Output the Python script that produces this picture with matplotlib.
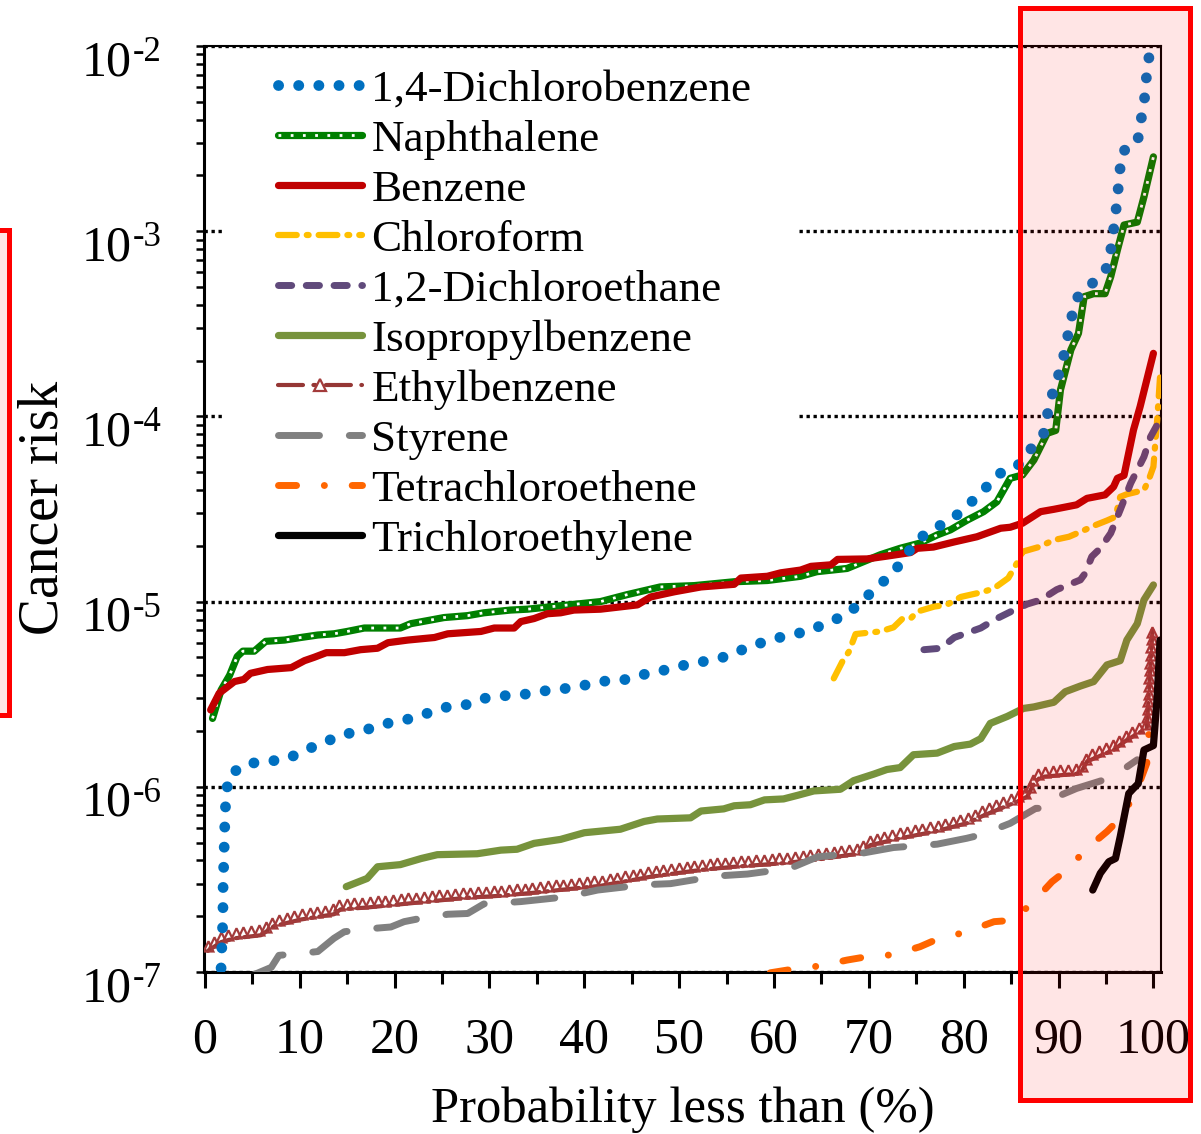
import numpy as np
import matplotlib
matplotlib.use("Agg")
import matplotlib.pyplot as plt
from matplotlib.lines import Line2D
from matplotlib.patches import Rectangle
from matplotlib.path import Path
from matplotlib.transforms import Affine2D
from matplotlib.patheffects import AbstractPathEffect
from matplotlib.ticker import LogLocator, MultipleLocator, NullFormatter

plt.rcParams['font.family'] = ['Liberation Serif', 'DejaVu Serif']

# ---- data (x = probability %, y = cancer risk) ----
dcb_x = [1.7, 1.9, 1.9, 2.1, 2.2, 2.5, 4.3, 6.5, 8.6, 10.6, 12.6, 14.6, 16.6, 18.8, 20.9,
         23.0, 25.2, 27.3, 29.4, 31.5, 33.7, 35.9, 38.1, 40.2, 42.4, 44.5, 46.7, 48.8, 51.0,
         53.1, 55.3, 57.3, 59.4, 61.5, 63.6, 65.6, 67.7, 69.4, 71.0, 72.5, 73.8, 75.2, 77.0,
         79.0, 81.1, 82.1, 83.6, 85.6, 87.0, 88.4, 88.9, 89.5, 90.3, 90.8, 91.3, 91.9, 93.5,
         95.0, 95.6, 95.9, 96.2, 96.4, 96.7, 98.3, 98.7, 99.1, 99.3, 99.7]
dcb_y = [1.05e-7, 2.0e-7, 2.7e-7, 6.4e-7, 8.7e-7, 1.15e-6, 1.33e-6, 1.37e-6, 1.41e-6, 1.58e-6,
         1.74e-6, 1.92e-6, 2.0e-6, 2.18e-6, 2.28e-6, 2.45e-6, 2.68e-6, 2.75e-6, 3.0e-6, 3.1e-6,
         3.16e-6, 3.3e-6, 3.4e-6, 3.55e-6, 3.74e-6, 3.8e-6, 4.1e-6, 4.3e-6, 4.6e-6, 4.8e-6,
         5.1e-6, 5.7e-6, 6.15e-6, 6.6e-6, 6.9e-6, 7.7e-6, 8.5e-6, 1.02e-5, 1.22e-5, 1.41e-5,
         1.75e-5, 2.18e-5, 2.49e-5, 2.85e-5, 3.56e-5, 4.0e-5, 4.87e-5, 5.35e-5, 6.6e-5, 8.0e-5,
         1.07e-4, 1.42e-4, 1.85e-4, 2.46e-4, 3.32e-4, 4.35e-4, 5.19e-4, 6.25e-4, 8.35e-4,
         1.12e-3, 1.5e-3, 2.0e-3, 2.69e-3, 2.98e-3, 4.0e-3, 5.37e-3, 7.17e-3, 1.0e-2]

nap_x = [0.8, 1.7, 2.6, 3.4, 4.0, 5.2, 6.4, 8.4, 10.1, 11.9, 13.6, 15.0, 16.8, 20.6, 21.7,
         23.5, 25.2, 27.7, 29.4, 32.2, 34.0, 37.5, 41.7, 44.5, 48.0, 51.6, 55.8, 59.3, 62.8,
         64.5, 67.7, 71.2, 73.3, 75.4, 77.2, 78.6, 80.4, 82.1, 83.5, 84.9, 86.2, 87.4, 88.8,
         89.7, 90.2, 91.3, 92.1, 92.7, 93.7, 94.9, 95.5, 96.2, 96.9, 98.3, 99.0, 100.0]
nap_y = [2.34e-6, 3.33e-6, 4.0e-6, 5.05e-6, 5.4e-6, 5.4e-6, 6.1e-6, 6.2e-6, 6.4e-6, 6.6e-6,
         6.7e-6, 6.9e-6, 7.2e-6, 7.2e-6, 7.6e-6, 7.9e-6, 8.2e-6, 8.4e-6, 8.7e-6, 9.0e-6,
         9.1e-6, 9.5e-6, 1.0e-5, 1.09e-5, 1.2e-5, 1.22e-5, 1.28e-5, 1.30e-5, 1.37e-5, 1.45e-5,
         1.51e-5, 1.79e-5, 1.94e-5, 2.07e-5, 2.29e-5, 2.44e-5, 2.76e-5, 3.06e-5, 3.46e-5,
         4.63e-5, 4.83e-5, 5.82e-5, 8.1e-5, 8.4e-5, 1.39e-4, 2.29e-4, 2.81e-4, 4.43e-4, 4.6e-4,
         4.6e-4, 5.68e-4, 7.9e-4, 1.08e-3, 1.12e-3, 1.53e-3, 2.52e-3]

benz_x = [0.6, 1.5, 3.1, 4.1, 4.8, 6.6, 9.1, 10.5, 11.5, 12.8, 14.7, 16.4, 18.2, 19.3, 21.4,
          24.2, 25.6, 29.1, 30.5, 32.6, 33.3, 34.7, 36.1, 37.5, 38.9, 41.7, 45.6, 47.0, 49.5,
          52.3, 55.8, 56.5, 59.3, 60.7, 62.8, 63.9, 66.0, 66.7, 69.8, 71.9, 74.4, 75.1, 76.8,
          79.0, 81.4, 83.9, 84.9, 86.2, 88.1, 89.5, 91.9, 93.0, 94.9, 95.8, 96.2, 96.9, 97.9,
          98.6, 100.0]
benz_y = [2.6e-6, 3.2e-6, 3.7e-6, 3.8e-6, 4.1e-6, 4.3e-6, 4.4e-6, 4.8e-6, 5.0e-6, 5.3e-6,
          5.3e-6, 5.5e-6, 5.6e-6, 6.0e-6, 6.2e-6, 6.4e-6, 6.7e-6, 6.9e-6, 7.2e-6, 7.2e-6,
          7.8e-6, 8.1e-6, 8.6e-6, 8.7e-6, 9.0e-6, 9.1e-6, 9.6e-6, 1.06e-5, 1.13e-5, 1.2e-5,
          1.24e-5, 1.34e-5, 1.37e-5, 1.43e-5, 1.48e-5, 1.55e-5, 1.58e-5, 1.69e-5, 1.70e-5,
          1.76e-5, 1.84e-5, 1.94e-5, 1.97e-5, 2.1e-5, 2.24e-5, 2.49e-5, 2.52e-5, 2.65e-5,
          3.06e-5, 3.15e-5, 3.33e-5, 3.61e-5, 3.77e-5, 4.17e-5, 4.63e-5, 4.8e-5, 8.45e-5,
          1.13e-4, 2.19e-4]

chl_x = [66.3, 67.2, 67.9, 68.6, 71.2, 72.6, 73.5, 74.4, 75.1, 76.9, 78.2, 79.7, 82.1, 83.2,
         84.7, 85.6, 86.2, 87.9, 89.5, 91.1, 92.3, 93.9, 95.1, 96.0, 96.5, 97.2, 99.0, 99.5,
         100.0, 100.2, 100.4, 100.7]
chl_y = [3.85e-6, 4.74e-6, 5.37e-6, 6.68e-6, 6.9e-6, 7.26e-6, 8.05e-6, 8.1e-6, 8.83e-6,
         9.4e-6, 9.6e-6, 1.06e-5, 1.13e-5, 1.18e-5, 1.34e-5, 1.61e-5, 1.86e-5, 1.97e-5,
         2.15e-5, 2.24e-5, 2.38e-5, 2.59e-5, 2.74e-5, 2.87e-5, 3.68e-5, 3.8e-5, 4.0e-5,
         4.54e-5, 5.35e-5, 7.2e-5, 9.6e-5, 1.64e-4]

dce_x = [75.8, 77.6, 79.0, 81.8, 83.2, 85.3, 86.7, 88.1, 89.8, 92.3, 92.8, 93.5, 94.4, 95.5,
         96.5, 97.6, 99.0, 99.7, 100.7]
dce_y = [5.5e-6, 5.6e-6, 6.4e-6, 7.2e-6, 7.96e-6, 9.0e-6, 9.7e-6, 1.02e-5, 1.16e-5, 1.31e-5,
         1.42e-5, 1.75e-5, 1.94e-5, 2.34e-5, 3.13e-5, 4.35e-5, 6.05e-5, 7.76e-5, 9.6e-5]

iso_x = [14.9, 17.1, 18.2, 20.6, 22.8, 24.5, 28.7, 31.2, 32.9, 34.7, 37.5, 40.0, 43.8, 46.3,
         47.7, 51.2, 52.3, 54.7, 55.8, 57.5, 59.0, 61.0, 62.5, 64.2, 67.0, 68.4, 70.5, 71.9,
         73.3, 74.7, 77.2, 79.0, 80.7, 81.8, 82.8, 84.6, 86.3, 87.4, 89.5, 90.7, 92.3, 93.7,
         95.1, 96.5, 97.2, 98.3, 99.0, 100.0]
iso_y = [2.89e-7, 3.2e-7, 3.7e-7, 3.8e-7, 4.1e-7, 4.3e-7, 4.35e-7, 4.55e-7, 4.6e-7, 4.95e-7,
         5.2e-7, 5.65e-7, 5.9e-7, 6.5e-7, 6.7e-7, 6.8e-7, 7.4e-7, 7.6e-7, 7.9e-7, 8.0e-7,
         8.5e-7, 8.6e-7, 9.0e-7, 9.5e-7, 9.7e-7, 1.08e-6, 1.17e-6, 1.24e-6, 1.27e-6, 1.49e-6,
         1.52e-6, 1.65e-6, 1.7e-6, 1.82e-6, 2.2e-6, 2.4e-6, 2.65e-6, 2.7e-6, 2.86e-6, 3.26e-6,
         3.5e-6, 3.7e-6, 4.55e-6, 4.8e-6, 6.2e-6, 7.6e-6, 1.02e-5, 1.23e-5]

eth_x = [0.3, 1.7, 3.1, 5.9, 7.3, 10.1, 13.6, 14.3, 17.1, 20.6, 24.2, 27.7, 31.2, 34.7, 38.2,
         41.7, 47.0, 52.3, 55.8, 61.0, 64.6, 69.1, 70.2, 73.3, 76.9, 80.3, 82.1, 85.6, 86.7,
         87.4, 88.1, 92.3, 93.0, 95.8, 97.2, 99.3, 99.5, 99.7, 99.9]
eth_y = [1.3e-7, 1.45e-7, 1.52e-7, 1.58e-7, 1.77e-7, 1.92e-7, 2.05e-7, 2.18e-7, 2.23e-7,
         2.32e-7, 2.42e-7, 2.52e-7, 2.58e-7, 2.68e-7, 2.8e-7, 2.92e-7, 3.27e-7, 3.56e-7,
         3.7e-7, 3.87e-7, 4.05e-7, 4.37e-7, 4.85e-7, 5.27e-7, 5.73e-7, 6.35e-7, 7.0e-7,
         8.3e-7, 8.85e-7, 1.04e-6, 1.13e-6, 1.18e-6, 1.37e-6, 1.58e-6, 1.79e-6, 2.07e-6,
         3.07e-6, 4.65e-6, 7.0e-6]

sty_x = [4.8, 7.0, 7.8, 10.1, 11.9, 13.6, 14.7, 17.8, 19.6, 21.0, 22.8, 25.6, 27.7, 29.4,
         30.5, 33.3, 38.2, 41.4, 46.3, 49.1, 54.0, 57.2, 61.7, 64.6, 69.5, 72.6, 77.2, 80.3,
         81.8, 84.9, 87.6, 88.8, 90.2, 91.9, 94.8, 96.2, 98.3]
sty_y = [9.5e-8, 1.06e-7, 1.23e-7, 1.26e-7, 1.29e-7, 1.52e-7, 1.65e-7, 1.72e-7, 1.75e-7,
         1.87e-7, 1.95e-7, 2.05e-7, 2.07e-7, 2.33e-7, 2.35e-7, 2.4e-7, 2.55e-7, 2.77e-7,
         2.96e-7, 3.0e-7, 3.3e-7, 3.38e-7, 3.63e-7, 4.19e-7, 4.4e-7, 4.7e-7, 4.9e-7, 5.27e-7,
         5.5e-7, 6.35e-7, 7.65e-7, 7.65e-7, 9.0e-7, 9.8e-7, 1.09e-6, 1.18e-6, 1.40e-6]

tce_x = [59.6, 61.7, 64.9, 67.7, 69.8, 72.6, 75.4, 76.9, 80.3, 83.2, 85.1, 87.2, 89.3, 90.9,
         93.0, 95.1, 96.5, 98.1, 99.3, 99.7]
tce_y = [0.99e-7, 1.03e-7, 1.08e-7, 1.16e-7, 1.21e-7, 1.24e-7, 1.37e-7, 1.48e-7, 1.65e-7,
         1.87e-7, 1.9e-7, 2.35e-7, 3.07e-7, 3.56e-7, 4.66e-7, 5.73e-7, 6.76e-7, 9.2e-7,
         1.34e-6, 2.6e-6]

tcy_x = [93.6, 94.4, 95.3, 96.0, 96.5, 97.4, 97.9, 98.4, 99.0, 100.0, 100.4, 100.7]
tcy_y = [2.77e-7, 3.41e-7, 3.94e-7, 4.1e-7, 5.38e-7, 9.2e-7, 9.8e-7, 1.04e-6, 1.58e-6,
         1.67e-6, 3.07e-6, 6.2e-6]

labels = ['1,4-Dichlorobenzene', 'Naphthalene', 'Benzene', 'Chloroform',
          '1,2-Dichloroethane', 'Isopropylbenzene', 'Ethylbenzene', 'Styrene',
          'Tetrachloroethene', 'Trichloroethylene']
y_exponents = [-2, -3, -4, -5, -6, -7]
x_ticks = list(range(0, 101, 10))


class TriangleTrail(AbstractPathEffect):
    """Draws the line, then open triangles sitting on it every `step` points."""
    def __init__(self, step=5.6, size=7.0, color='#A33B3B', lw=1.6):
        super().__init__()
        self.step, self.size, self.color, self.lw = step, size, color, lw

    def draw_path(self, renderer, gc, tpath, affine, rgbFace=None):
        renderer.draw_path(gc, tpath, affine, rgbFace)
        pts = affine.transform(tpath.vertices)
        d = np.hypot(*np.diff(pts, axis=0).T)
        s = np.concatenate([[0], np.cumsum(d)])
        pos = np.arange(0, s[-1], renderer.points_to_pixels(self.step))
        xy = np.column_stack([np.interp(pos, s, pts[:, 0]), np.interp(pos, s, pts[:, 1])])
        h = renderer.points_to_pixels(self.size)
        tri = Path([[-h / 2, 0], [h / 2, 0], [0, h * 1.05], [-h / 2, 0]], closed=True)
        g = renderer.new_gc()
        g.copy_properties(gc)
        g.set_dashes(0, None)
        g.set_linewidth(self.lw)
        g.set_foreground(self.color)
        g.set_joinstyle('miter')
        renderer.draw_markers(g, tri, Affine2D(), Path(xy), Affine2D(), None)
        g.restore()


W, H = 1201, 1134
fig = plt.figure(figsize=(W / 100, H / 100), dpi=100)
ax = fig.add_axes([204 / W, 1 - 972 / H, 957 / W, 926 / H])
ax.set_yscale('log')
ax.set_ylim(1e-7, 1e-2)
ax.set_xlim(-0.1, 100.8)

round_kw = dict(solid_capstyle='round', solid_joinstyle='round',
                dash_capstyle='round', dash_joinstyle='round')

l_nap, = ax.plot(nap_x, nap_y, color='#008000', lw=5.2, zorder=3, **round_kw)
l_nap2, = ax.plot(nap_x, nap_y, color='white', lw=2.0, ls=(0, (1, 3.4)), zorder=3.01)
l_benz, = ax.plot(benz_x, benz_y, color='#C00000', lw=5.2, zorder=3.1, **round_kw)
l_chl, = ax.plot(chl_x, chl_y, color='#FFC000', lw=4.5, ls=(0, (3, 1.6, 0.3, 1.6)),
                 zorder=3.2, **round_kw)
l_dce, = ax.plot(dce_x, dce_y, color='#604A7B', lw=5.0, ls=(0, (1.9, 2.1)), zorder=3.3,
                 **round_kw)
l_iso, = ax.plot(iso_x, iso_y, color='#77933C', lw=5.2, zorder=3.4, **round_kw)
l_eth, = ax.plot(eth_x, eth_y, color='#953735', lw=3.0, ls=(0, (6, 1.5, 0.5, 1.5)),
                 zorder=3.5, path_effects=[TriangleTrail()], **round_kw)
l_sty, = ax.plot(sty_x, sty_y, color='#808080', lw=5.0, ls=(0, (5.9, 4.3)), zorder=3.6,
                 **round_kw)
l_tce, = ax.plot(tce_x, tce_y, color='#FF6600', lw=5.0, ls=(0, (2.6, 4.0, 0.01, 4.0)),
                 zorder=3.7, **round_kw)
l_tcy, = ax.plot(tcy_x, tcy_y, color='black', lw=5.2, zorder=3.8, **round_kw)
l_dcb, = ax.plot(dcb_x, dcb_y, color='#0070C0', lw=7.8, ls=(0, (0.01, 1.85)), zorder=3.9,
                 **round_kw)

# gridlines, hidden behind the legend box like the original
ax.set_axisbelow(True)
ax.yaxis.grid(True, which='major', color='black', linestyle=(0, (1, 1.1)), linewidth=2.4)
ax.xaxis.grid(False)
ax.add_patch(Rectangle((21 / 957, (972 - 560) / 926), (797 - 225) / 957, 500 / 926,
                       transform=ax.transAxes, facecolor='white', edgecolor='none',
                       zorder=1.5))

eth_proxy = Line2D([], [], color='#953735', lw=3.0, ls=(0, (6, 2.5, 0.5, 2.5)), marker='^',
                   markersize=8, markerfacecolor='none', markeredgecolor='#A33B3B',
                   markeredgewidth=1.6, **round_kw)
handles = [l_dcb, (l_nap, l_nap2), l_benz, l_chl, l_dce, l_iso, eth_proxy, l_sty, l_tce, l_tcy]
leg = ax.legend(handles, labels, loc='upper left', bbox_to_anchor=(278 / W, 1 - 69 / H),
                bbox_transform=fig.transFigure, frameon=False, fontsize=32.5,
                handlelength=1.85, handletextpad=0.22, labelspacing=0.21, borderpad=0,
                borderaxespad=0, numpoints=1)
leg.set_zorder(1.6)

# axes styling
for side in ['left', 'bottom']:
    ax.spines[side].set_linewidth(2.2)
for side in ['top', 'right']:
    ax.spines[side].set_linewidth(1.5)

ax.yaxis.set_major_locator(LogLocator(base=10))
ax.yaxis.set_minor_locator(LogLocator(base=10, subs=np.arange(2, 10)))
ax.yaxis.set_minor_formatter(NullFormatter())
ax.tick_params(axis='y', which='both', direction='out', length=5.8, width=1.8,
               labelleft=False)
ax.set_xticks(x_ticks)
ax.xaxis.set_minor_locator(MultipleLocator(5))
ax.tick_params(axis='x', which='major', direction='out', length=11.5, width=2.2,
               labelsize=36, pad=21)
ax.tick_params(axis='x', which='minor', direction='out', length=8.6, width=2.2)

for e in y_exponents:
    ax.annotate('10', xy=(0, 10.0 ** e), xycoords=('axes fraction', 'data'),
                xytext=(-72, -29), textcoords='offset pixels', ha='right',
                va='baseline', fontsize=36, annotation_clip=False)
    ax.annotate(str(e), xy=(0, 10.0 ** e), xycoords=('axes fraction', 'data'),
                xytext=(-71, -15), textcoords='offset pixels', ha='left',
                va='baseline', fontsize=25, annotation_clip=False)

fig.text(683 / W, 1 - 1122 / H, 'Probability less than (%)', ha='center', va='baseline',
         fontsize=36.5)
fig.text(44 / W, 1 - 508 / H, 'Cancer risk', rotation=90, ha='center', va='center',
         fontsize=40)

# red highlight boxes
fig.add_artist(Rectangle((1020 / W, 1 - 1100 / H), 170 / W, 1092 / H,
                         transform=fig.transFigure, facecolor=(1, 0, 0, 0.1),
                         edgecolor='#FF0000', linewidth=3.6, zorder=10))
fig.add_artist(Rectangle((-12 / W, 1 - 715 / H), 21 / W, 485 / H,
                         transform=fig.transFigure, facecolor=(1, 0, 0, 0.1),
                         edgecolor='#FF0000', linewidth=3.6, zorder=10))

fig.savefig('out.png', dpi=100)
